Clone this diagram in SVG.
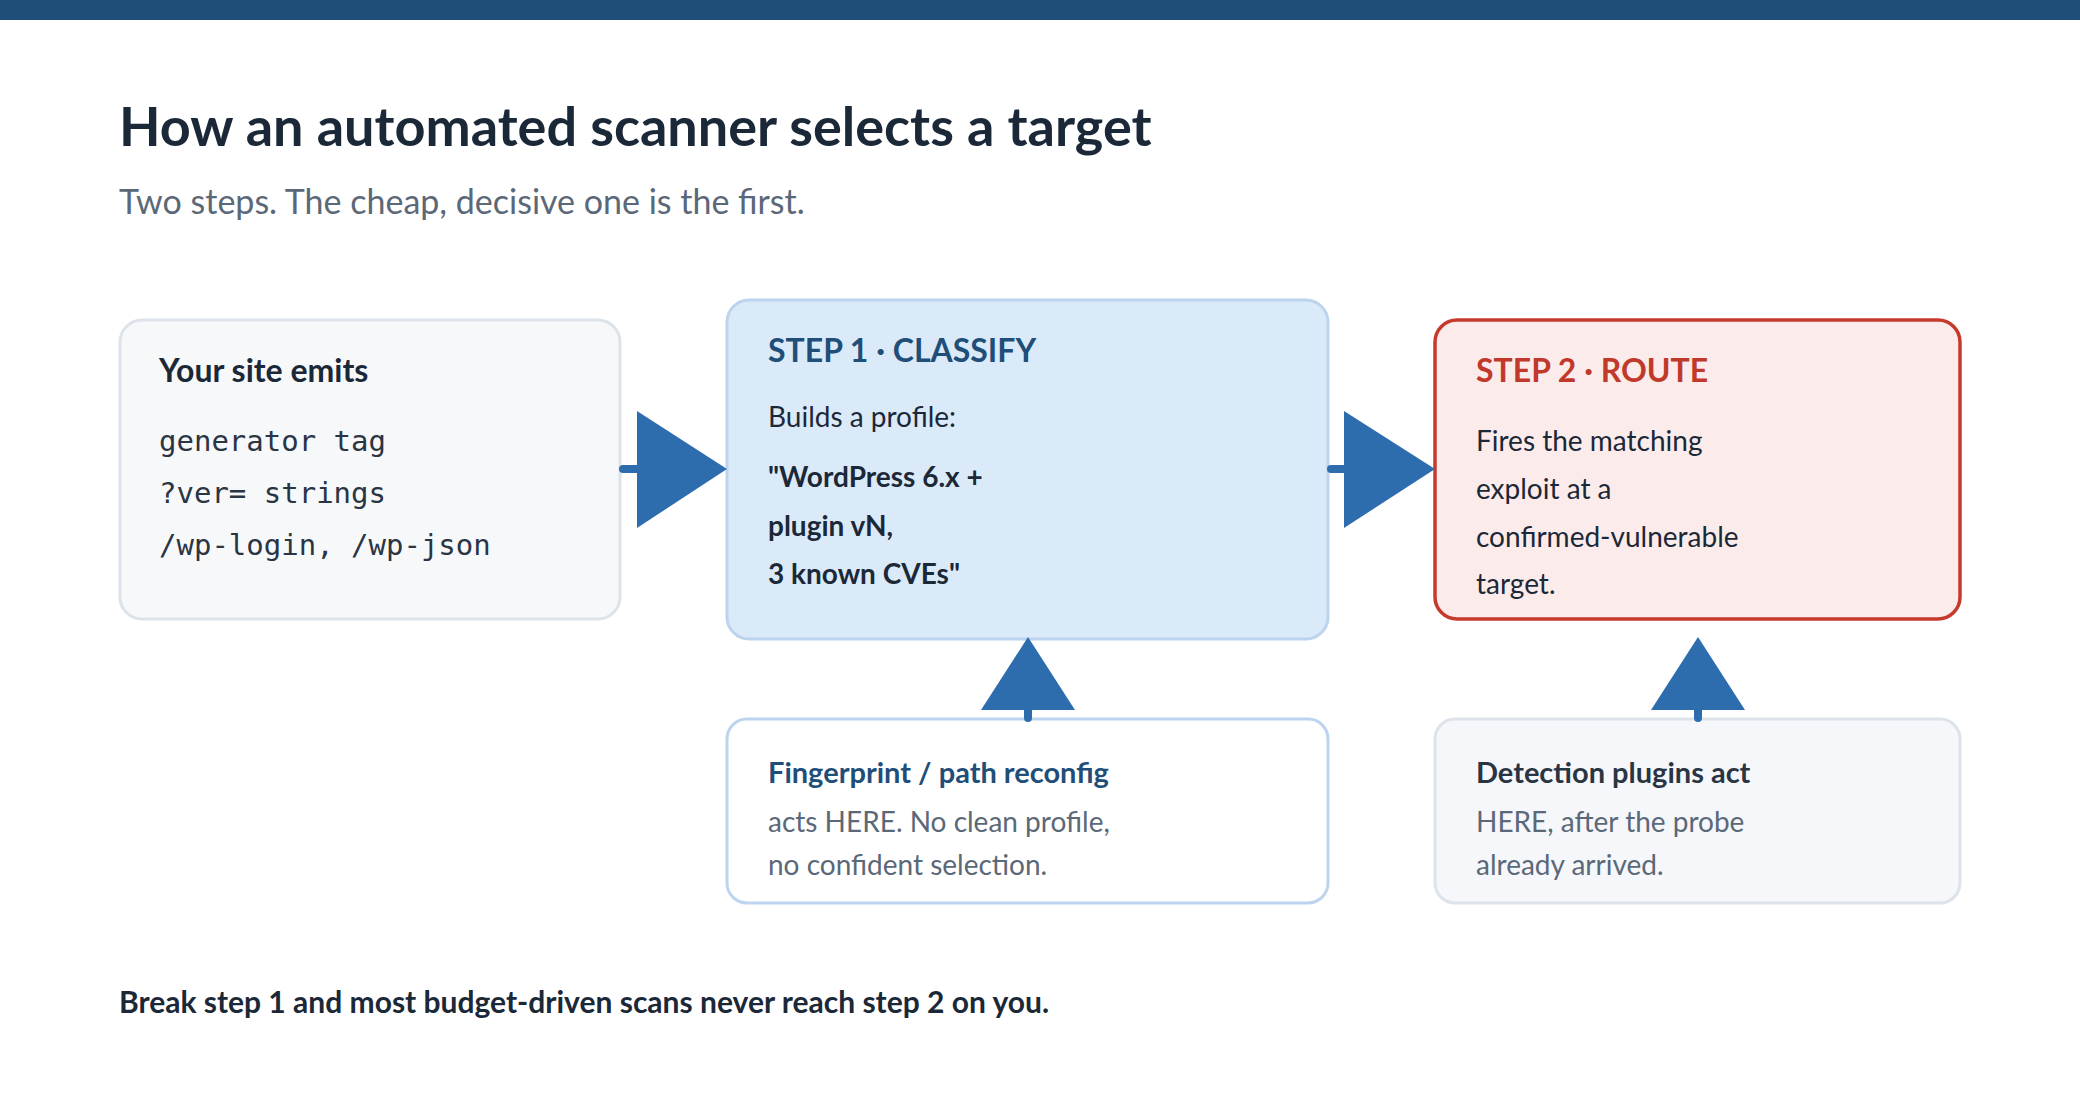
<svg xmlns="http://www.w3.org/2000/svg" width="2080" height="1120" viewBox="0 0 2080 1120">
<style>
text{font-family:Lato,"Liberation Sans",sans-serif}
.h{font-weight:bold;font-size:32px}
.b{font-size:28px;fill:#1b2838}
.bb{font-size:28px;fill:#1b2838;font-weight:bold}
.m{font-family:"DejaVu Sans Mono","Liberation Mono",monospace;font-size:29px;fill:#2a3544}
.g{font-size:28px;fill:#5b6878}
.conn line{stroke:#2e6dad;stroke-width:8;stroke-linecap:round}
.conn polygon{fill:#2e6dad}
</style>
<rect width="2080" height="1120" fill="#fff"/>
<rect width="2080" height="20" fill="#1f4e79"/>
<text x="119" y="146" font-size="54" font-weight="bold" fill="#1b2838">How an automated scanner selects a target</text>
<text x="119" y="214" font-size="34" fill="#5b6878">Two steps. The cheap, decisive one is the first.</text>
<g id="emits">
<rect x="120" y="320" width="500" height="299" rx="22" fill="#f7f8fa" stroke="#dde3ea" stroke-width="3"/>
<text x="159" y="382" class="h" fill="#1b2838">Your site emits</text>
<text x="159" y="451" class="m">generator tag</text>
<text x="159" y="503" class="m">?ver= strings</text>
<text x="159" y="555" class="m">/wp-login, /wp-json</text>
</g>
<g id="step1">
<rect x="727" y="300" width="601" height="339" rx="22" fill="#dbeaf8" stroke="#bcd4ee" stroke-width="3"/>
<text x="768" y="362" class="h" fill="#1f4e79">STEP 1 · CLASSIFY</text>
<text x="768" y="427" class="b">Builds a profile:</text>
<text x="768" y="487" class="bb">"WordPress 6.x +</text>
<text x="768" y="536" class="bb">plugin vN,</text>
<text x="768" y="584" class="bb">3 known CVEs"</text>
</g>
<g id="step2">
<rect x="1435" y="320" width="525" height="299" rx="22" fill="#fbeceb" stroke="#c63a2e" stroke-width="3.5"/>
<text x="1476" y="382" class="h" fill="#c0392b">STEP 2 · ROUTE</text>
<text x="1476" y="451" class="b">Fires the matching</text>
<text x="1476" y="499" class="b">exploit at a</text>
<text x="1476" y="547" class="b">confirmed-vulnerable</text>
<text x="1476" y="594" class="b">target.</text>
</g>
<g id="fingerprint">
<rect x="727" y="719" width="601" height="184" rx="20" fill="#fff" stroke="#bcd4ee" stroke-width="3"/>
<text x="768" y="783" class="h" font-size="29" fill="#1f4e79" style="font-size:29px">Fingerprint / path reconfig</text>
<text x="768" y="832" class="g">acts HERE. No clean profile,</text>
<text x="768" y="875" class="g">no confident selection.</text>
</g>
<g id="detection">
<rect x="1435" y="719" width="525" height="184" rx="20" fill="#f5f7fa" stroke="#dde3ea" stroke-width="3"/>
<text x="1476" y="783" class="h" fill="#2a3544" style="font-size:29px">Detection plugins act</text>
<text x="1476" y="832" class="g">HERE, after the probe</text>
<text x="1476" y="875" class="g">already arrived.</text>
</g>
<g class="conn">
<line x1="623" y1="469" x2="645" y2="469"/>
<polygon points="637,411 727,469 637,528"/>
<line x1="1331" y1="469" x2="1350" y2="469"/>
<polygon points="1344,411 1435,469 1344,528"/>
<line x1="1028" y1="718" x2="1028" y2="700"/>
<polygon points="1028,637 1075,710 981,710"/>
<line x1="1698" y1="718" x2="1698" y2="700"/>
<polygon points="1698,637 1745,710 1651,710"/>
</g>
<text x="119" y="1013" font-size="30" font-weight="bold" fill="#1b2838">Break step 1 and most budget-driven scans never reach step 2 on you.</text>
</svg>
